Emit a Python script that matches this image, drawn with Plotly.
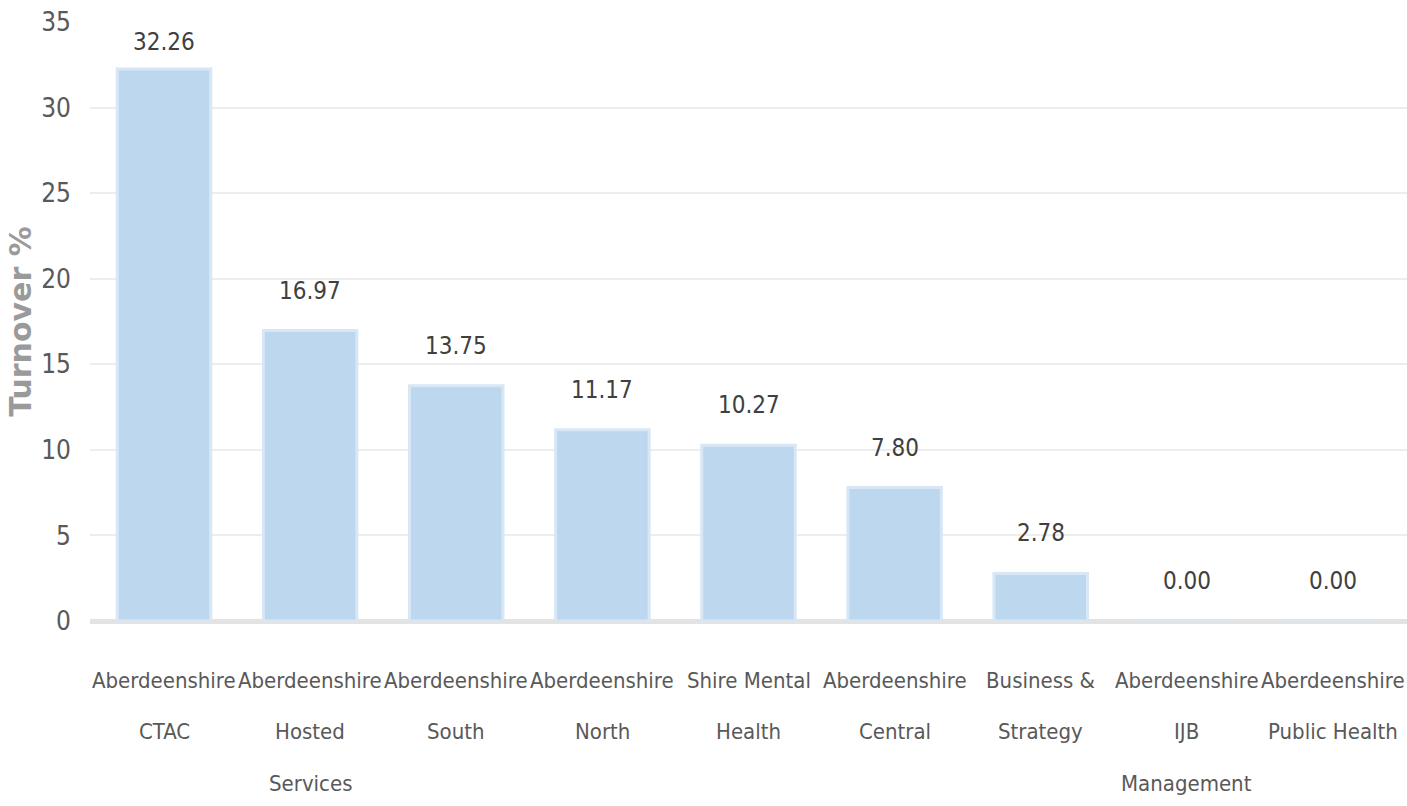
import plotly.graph_objects as go

categories = [
    "Aberdeenshire<br>CTAC",
    "Aberdeenshire<br>Hosted<br>Services",
    "Aberdeenshire<br>South",
    "Aberdeenshire<br>North",
    "Shire Mental<br>Health",
    "Aberdeenshire<br>Central",
    "Business &<br>Strategy",
    "Aberdeenshire<br>IJB<br>Management",
    "Aberdeenshire<br>Public Health",
]
turnover = [32.26, 16.97, 13.75, 11.17, 10.27, 7.80, 2.78, 0.00, 0.00]
value_labels = [f"{v:.2f}" for v in turnover]
y_ticks = [0, 5, 10, 15, 20, 25, 30, 35]
y_title = "Turnover %"

LABEL_FONT = "DejaVu Sans Condensed, Roboto Condensed, Liberation Sans Narrow, sans-serif"

fig = go.Figure()
fig.add_trace(go.Bar(
    x=categories,
    y=turnover,
    marker=dict(color="#BDD7EE", line=dict(color="#D8E7F6", width=3)),
    hoverinfo="skip",
))

annotations = []
# value labels above bars
for i, (c, v, t) in enumerate(zip(categories, turnover, value_labels)):
    annotations.append(dict(
        x=c, y=v, xref="x", yref="y", text=t, showarrow=False,
        yanchor="middle", yshift=27 if i == 0 else 40,
        font=dict(family=LABEL_FONT, size=24, color="#404040"),
    ))
# category labels, one annotation per line for wide line spacing
line_shifts = [-59, -110, -162]
for c in categories:
    for j, part in enumerate(c.split("<br>")):
        annotations.append(dict(
            x=c, y=0, xref="x", yref="paper", text=part, showarrow=False,
            yanchor="middle", yshift=line_shifts[j],
            font=dict(family=LABEL_FONT, size=22, color="#595959"),
        ))

fig.update_layout(
    width=1407, height=806,
    margin=dict(l=90, r=0, t=22, b=185),
    plot_bgcolor="white", paper_bgcolor="white",
    bargap=0.36,
    showlegend=False,
    annotations=annotations,
    xaxis=dict(
        showticklabels=False, showgrid=False, zeroline=False,
        showline=False, ticks="",
    ),
    yaxis=dict(
        range=[0, 35], tickvals=y_ticks, ticktext=[str(v) for v in y_ticks],
        showgrid=True, gridcolor="#EDEDED", gridwidth=2,
        zeroline=True, zerolinecolor="#E3E3E3", zerolinewidth=5,
        ticks="", ticklabelstandoff=18,
        tickfont=dict(family=LABEL_FONT, size=26, color="#595959"),
        title=dict(text=y_title, standoff=0,
                   font=dict(family="DejaVu Sans", size=30, color="#9A9A9A", weight="bold")),
    ),
)

fig.write_html("out.html")
